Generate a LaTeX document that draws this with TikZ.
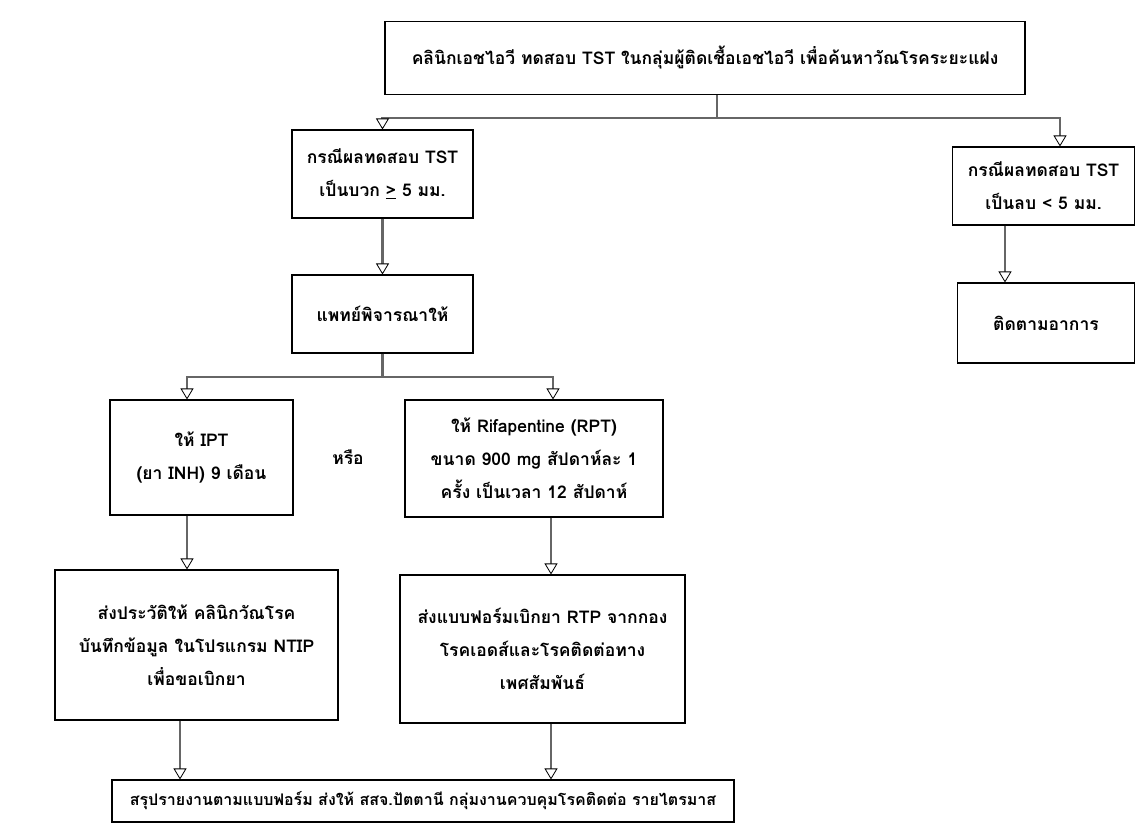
\documentclass[tikz,border=0pt]{standalone}
\usepackage{fontspec}
\setmainfont{Liberation Sans}
\newfontfamily\thai[Script=Thai]{Loma}
\usetikzlibrary{arrows.meta}
\begin{document}
\begin{tikzpicture}[x=1pt,y=-1pt,
  box/.style={draw, line width=1.1pt, align=center, inner sep=0pt,
    font=\thai\bfseries\fontsize{17.5}{33}\selectfont},
  conn/.style={line width=2.6pt, draw=black!60},
  arr/.style={conn, -{Triangle[length=11pt,width=13pt,fill=white,color=black,line width=0.8pt]}},
  lbl/.style={font=\thai\bfseries\fontsize{17.5}{33}\selectfont}
]
\useasboundingbox (0,0) rectangle (1135,836);
% nodes
\node[box, minimum width=640pt, minimum height=73pt] (top) at (705,58)
  {คลินิกเอชไอวี ทดสอบ TST ในกลุ่มผู้ติดเชื้อเอชไอวี เพื่อค้นหาวัณโรคระยะแฝง};
\node[box, minimum width=181pt, minimum height=88pt] (b1) at (382.5,174)
  {กรณีผลทดสอบ TST\\เป็นบวก \underline{>} 5 มม.};
\node[box, minimum width=181pt, minimum height=78pt] (b2) at (382.5,314)
  {แพทย์พิจารณาให้};
\node[box, minimum width=182pt, minimum height=78pt] (r1) at (1043.5,186)
  {กรณีผลทดสอบ TST\\เป็นลบ < 5 มม.};
\node[box, minimum width=177pt, minimum height=80pt] (r2) at (1046,323)
  {ติดตามอาการ};
\node[box, minimum width=183pt, minimum height=115pt] (ipt) at (201.5,457.5)
  {ให้ IPT\\(ยา INH) 9 เดือน};
\node[lbl] (or) at (348,457) {หรือ};
\node[box, minimum width=258pt, minimum height=117pt] (rpt) at (534,458.5)
  {ให้ Rifapentine (RPT)\\ขนาด 900 mg สัปดาห์ละ 1\\ครั้ง เป็นเวลา 12 สัปดาห์};
\node[box, minimum width=283pt, minimum height=150pt] (l3) at (196.5,645)
  {ส่งประวัติให้ คลินิกวัณโรค\\บันทึกข้อมูล ในโปรแกรม NTIP\\เพื่อขอเบิกยา};
\node[box, minimum width=285pt, minimum height=148pt] (r3) at (542.5,649)
  {ส่งแบบฟอร์มเบิกยา RTP จากกอง\\โรคเอดส์และโรคติดต่อทาง\\เพศสัมพันธ์};
\node[box, minimum width=622pt, minimum height=42pt,
  font=\thai\bfseries\fontsize{16}{33}\selectfont] (bot) at (423,801)
  {สรุปรายงานตามแบบฟอร์ม ส่งให้ สสจ.ปัตตานี กลุ่มงานควบคุมโรคติดต่อ รายไตรมาส};
% junction coordinates
\coordinate (j1) at (717,118);
\coordinate (j1r) at (1060,118);
\coordinate (j2) at (382.5,377);
\coordinate (j2l) at (187,377);
\coordinate (j2r) at (553,377);
\coordinate (xr) at (1005,0);
\coordinate (xl) at (180,0);
\coordinate (xm) at (551,0);
% connectors
\draw[conn] (top.south -| j1) -- (j1);
\draw[arr] (j1) -| (b1.north);
\draw[arr] (j1) -- (j1r) -- (j1r |- r1.north);
\draw[arr] (b1) -- (b2);
\draw[arr] (r1.south -| xr) -- (r2.north -| xr);
\draw[conn] (b2.south) -- (j2);
\draw[arr] (j2) -- (j2l) -- (j2l |- ipt.north);
\draw[arr] (j2) -- (j2r) -- (j2r |- rpt.north);
\draw[arr] (ipt.south -| j2l) -- (l3.north -| j2l);
\draw[arr] (rpt.south -| xm) -- (r3.north -| xm);
\draw[arr] (l3.south -| xl) -- (bot.north -| xl);
\draw[arr] (r3.south -| xm) -- (bot.north -| xm);
\end{tikzpicture}
\end{document}
